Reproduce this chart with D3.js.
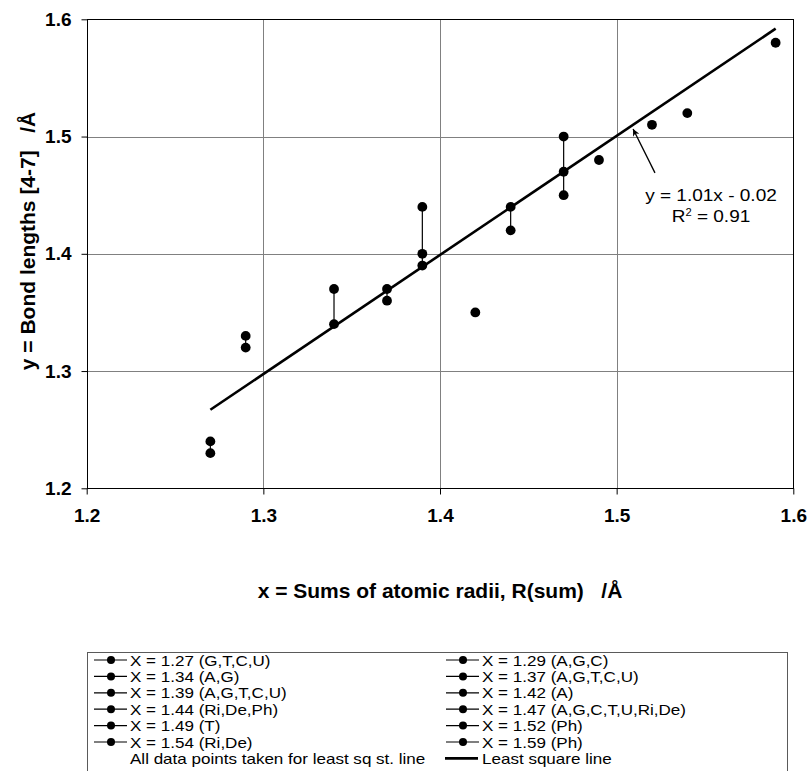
<!DOCTYPE html>
<html>
<head>
<meta charset="utf-8">
<script src="https://cdn.jsdelivr.net/npm/d3@7"></script>
<style>
    body { margin: 0; background: #fff; }
    text { font-family: Arial, "Liberation Sans", sans-serif; }
</style>
</head>
<body>
<div id="chart"></div>
<script>

// x value of each series (sum of atomic radii) and its legend label
let seriesX = [1.27, 1.29, 1.34, 1.37, 1.39, 1.42, 1.44, 1.47, 1.49, 1.52, 1.54, 1.59]
let seriesNames = ['X = 1.27 (G,T,C,U)', 'X = 1.29 (A,G,C)', 'X = 1.34 (A,G)', 'X = 1.37 (A,G,T,C,U)',
    'X = 1.39 (A,G,T,C,U)', 'X = 1.42 (A)', 'X = 1.44 (Ri,De,Ph)', 'X = 1.47 (A,G,C,T,U,Ri,De)',
    'X = 1.49 (T)', 'X = 1.52 (Ph)', 'X = 1.54 (Ri,De)', 'X = 1.59 (Ph)']

// bond lengths for each series
let seriesY = [
    [1.24, 1.23],
    [1.33, 1.32],
    [1.37, 1.34],
    [1.37, 1.36],
    [1.44, 1.40, 1.39],
    [1.35],
    [1.44, 1.42],
    [1.50, 1.47, 1.45],
    [1.48],
    [1.51],
    [1.52],
    [1.58]
]

// least square line end points
let fitX = [1.27, 1.59]
let fitY = [1.267, 1.592]

// axis ticks
let xTicks = [1.2, 1.3, 1.4, 1.5, 1.6]
let yTicks = [1.2, 1.3, 1.4, 1.5, 1.6]

let extraLegend = ['All data points taken for least sq st. line', 'Least square line']


class ScatterVis {

    constructor(parentElement) {
        this.parentElement = parentElement;
        this.initVis()
    }

    initVis() {
        let vis = this;

        vis.width = 809;
        vis.height = 771;

        vis.svg = d3.select('#' + vis.parentElement).append('svg')
            .attr('width', vis.width)
            .attr('height', vis.height)

        vis.svg.append('rect')
            .attr('width', vis.width)
            .attr('height', vis.height)
            .attr('fill', '#fff')

        // scales
        vis.x = d3.scaleLinear().domain([1.2, 1.6]).range([86.7, 793.3])
        vis.y = d3.scaleLinear().domain([1.2, 1.6]).range([488.3, 19.3])

        vis.drawGrid()
        vis.drawAxes()
        vis.drawData()
        vis.drawAnnotation()
        vis.drawLegend()
    }

    drawGrid() {
        let vis = this;

        let grid = vis.svg.append('g').attr('class', 'grid')

        grid.selectAll('.vline').data(xTicks.slice(1, -1)).enter().append('line')
            .attr('x1', d => Math.round(vis.x(d)) + 0.5)
            .attr('x2', d => Math.round(vis.x(d)) + 0.5)
            .attr('y1', vis.y(1.6))
            .attr('y2', vis.y(1.2))
            .attr('stroke', '#808080')

        grid.selectAll('.hline').data(yTicks.slice(1, -1)).enter().append('line')
            .attr('y1', d => Math.round(vis.y(d)) + 0.5)
            .attr('y2', d => Math.round(vis.y(d)) + 0.5)
            .attr('x1', vis.x(1.2))
            .attr('x2', vis.x(1.6))
            .attr('stroke', '#808080')

        // plot border
        vis.svg.append('rect')
            .attr('x', Math.round(vis.x(1.2)) + 0.5)
            .attr('y', Math.round(vis.y(1.6)) + 0.5)
            .attr('width', Math.round(vis.x(1.6)) - Math.round(vis.x(1.2)))
            .attr('height', Math.round(vis.y(1.2)) - Math.round(vis.y(1.6)))
            .attr('fill', 'none')
            .attr('stroke', '#000')
    }

    drawAxes() {
        let vis = this;

        let xAxis = d3.axisBottom(vis.x).tickValues(xTicks).tickFormat(d3.format('.1f')).tickSize(6).tickPadding(14)
        let yAxis = d3.axisLeft(vis.y).tickValues(yTicks).tickFormat(d3.format('.1f')).tickSize(6).tickPadding(10)

        vis.xAxisGroup = vis.svg.append('g')
            .attr('class', 'axis x-axis')
            .attr('transform', `translate(0, ${Math.round(vis.y(1.2)) + 0.5})`)
            .call(xAxis)

        vis.yAxisGroup = vis.svg.append('g')
            .attr('class', 'axis y-axis')
            .attr('transform', `translate(${Math.round(vis.x(1.2)) + 0.5}, 0)`)
            .call(yAxis)

        vis.svg.selectAll('.axis .domain').remove()
        vis.svg.selectAll('.axis text')
            .attr('font-size', 19)
            .attr('font-weight', 'bold')
            .attr('fill', '#000')
            .attr('font-family', 'Arial, "Liberation Sans", sans-serif')

        // axis titles
        vis.svg.append('text')
            .attr('x', (vis.x(1.2) + vis.x(1.6)) / 2)
            .attr('y', 598)
            .attr('text-anchor', 'middle')
            .attr('font-size', 21)
            .attr('font-weight', 'bold')
            .style('white-space', 'pre')
            .text('x = Sums of atomic radii, R(sum)   /Å')

        vis.svg.append('text')
            .attr('transform', `translate(35, 241) rotate(-90)`)
            .attr('text-anchor', 'middle')
            .attr('font-size', 21)
            .attr('font-weight', 'bold')
            .style('white-space', 'pre')
            .text('y = Bond lengths [4-7]   /Å')
    }

    drawData() {
        let vis = this;

        let series = seriesX.map((x, i) => ({x: x, ys: seriesY[i]}))

        let groups = vis.svg.append('g').attr('class', 'series')
            .selectAll('g').data(series).enter().append('g')

        // lines joining the points of one series
        groups.filter(d => d.ys.length > 1).append('line')
            .attr('x1', d => vis.x(d.x))
            .attr('x2', d => vis.x(d.x))
            .attr('y1', d => vis.y(d3.max(d.ys)))
            .attr('y2', d => vis.y(d3.min(d.ys)))
            .attr('stroke', '#000')
            .attr('stroke-width', 1.2)

        // least square line
        vis.svg.append('line')
            .attr('x1', vis.x(fitX[0]))
            .attr('y1', vis.y(fitY[0]))
            .attr('x2', vis.x(fitX[1]))
            .attr('y2', vis.y(fitY[1]))
            .attr('stroke', '#000')
            .attr('stroke-width', 2.6)

        groups.selectAll('circle').data(d => d.ys.map(y => ({x: d.x, y: y}))).enter().append('circle')
            .attr('cx', d => vis.x(d.x))
            .attr('cy', d => vis.y(d.y))
            .attr('r', 4.9)
            .attr('fill', '#000')
    }

    drawAnnotation() {
        let vis = this;

        vis.svg.append('defs').append('marker')
            .attr('id', 'arrow')
            .attr('viewBox', '0 0 10 10')
            .attr('refX', 10)
            .attr('refY', 5)
            .attr('markerWidth', 9)
            .attr('markerHeight', 7)
            .attr('markerUnits', 'userSpaceOnUse')
            .attr('orient', 'auto')
            .append('path')
            .attr('d', 'M0,0 L10,5 L0,10 L3,5 Z')
            .attr('fill', '#000')

        // arrow pointing at the fitted line
        vis.svg.append('line')
            .attr('x1', vis.x(1.5217))
            .attr('y1', vis.y(1.469))
            .attr('x2', vis.x(1.5093))
            .attr('y2', vis.y(1.5064))
            .attr('stroke', '#000')
            .attr('stroke-width', 1.3)
            .attr('marker-end', 'url(#arrow)')

        // equation label, slightly stretched sideways like the original
        let cx = vis.x(1.5534)
        let eq = vis.svg.append('g')
            .attr('transform', `translate(${cx}, 0) scale(1.12, 1)`)

        eq.append('text')
            .attr('x', 0)
            .attr('y', vis.y(1.445))
            .attr('text-anchor', 'middle')
            .attr('font-size', 17)
            .text('y = 1.01x - 0.02')

        let r2 = eq.append('text')
            .attr('x', 0)
            .attr('y', vis.y(1.4271))
            .attr('text-anchor', 'middle')
            .attr('font-size', 17)
        r2.append('tspan').text('R')
        r2.append('tspan').attr('font-size', 10).attr('dy', -6).text('2')
        r2.append('tspan').attr('dy', 6).text(' = 0.91')
    }

    drawLegend() {
        let vis = this;

        let legend = vis.svg.append('g').attr('class', 'legend')

        legend.append('rect')
            .attr('x', 87.5)
            .attr('y', 652.5)
            .attr('width', 700)
            .attr('height', 130)
            .attr('fill', '#fff')
            .attr('stroke', '#5a5a5a')

        let entries = seriesNames.map(name => ({name: name, type: 'series'}))
        entries.push({name: extraLegend[0], type: 'none'})
        entries.push({name: extraLegend[1], type: 'fit'})

        let rowH = 16.4

        let items = legend.selectAll('.item').data(entries).enter().append('g')
            .attr('class', 'item')
            .attr('transform', (d, i) => `translate(${94 + (i % 2) * 352}, ${660 + Math.floor(i / 2) * rowH})`)

        items.filter(d => d.type === 'series').append('line')
            .attr('x1', 0).attr('x2', 33)
            .attr('stroke', '#000')
            .attr('stroke-width', 1.2)

        items.filter(d => d.type === 'series').append('circle')
            .attr('cx', 17)
            .attr('r', 4)
            .attr('fill', '#000')

        items.filter(d => d.type === 'fit').append('line')
            .attr('x1', -1).attr('x2', 32)
            .attr('stroke', '#000')
            .attr('stroke-width', 2.6)

        // text is squeezed vertically in the original, so stretch a smaller font
        items.append('text')
            .attr('transform', 'translate(36, 5.5) scale(1.2, 1)')
            .attr('font-size', 14.2)
            .attr('fill', '#000')
            .text(d => d.name)
    }
}

let scatterVis = new ScatterVis('chart')

</script>
</body>
</html>
